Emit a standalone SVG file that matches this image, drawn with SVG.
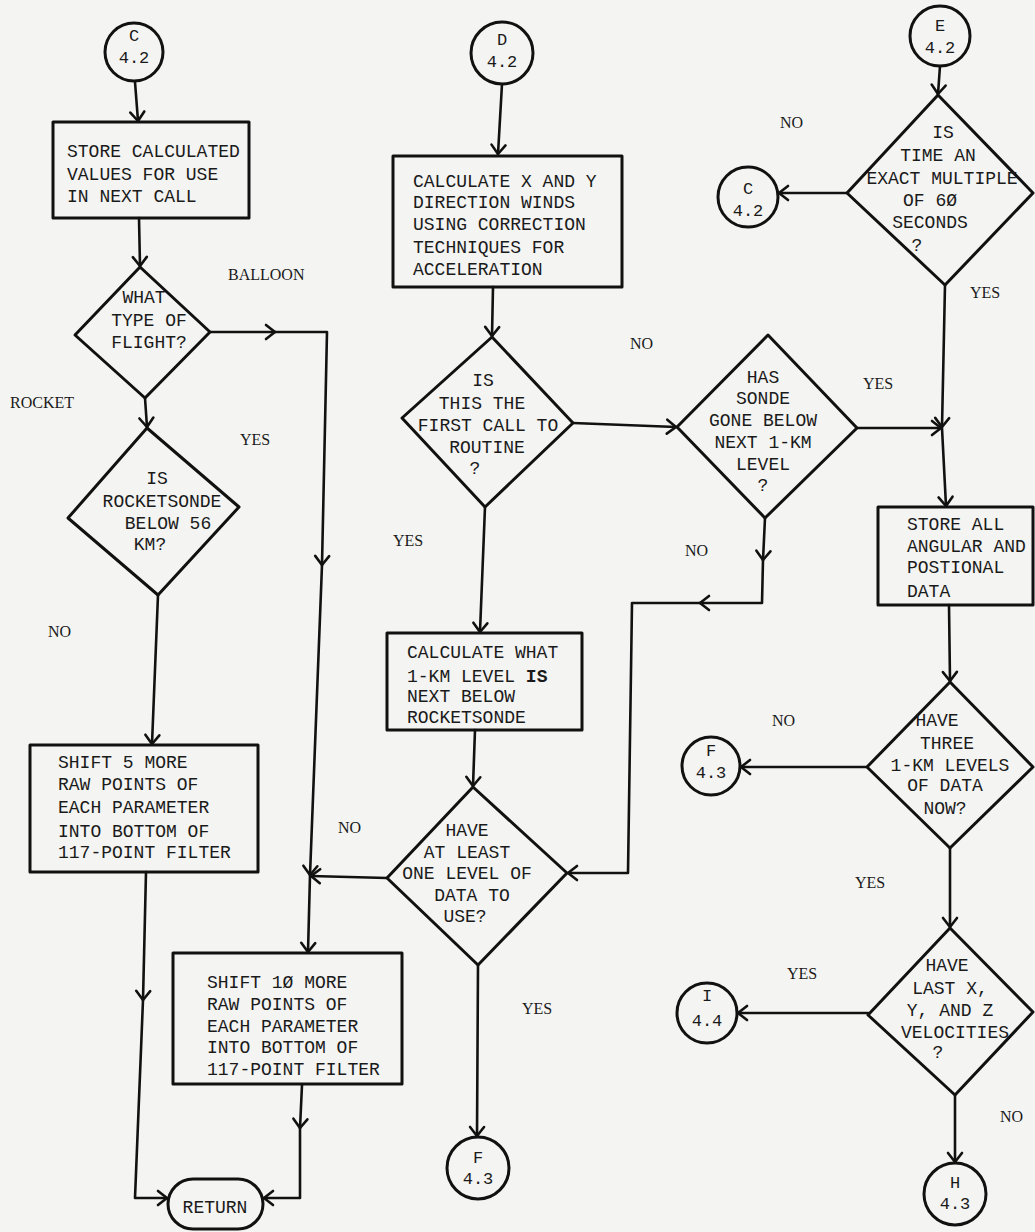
<svg xmlns="http://www.w3.org/2000/svg" width="1035" height="1232" viewBox="0 0 1035 1232">
<defs>
<marker id="arr" viewBox="-12 -10 14 20" refX="0" refY="0" markerWidth="14" markerHeight="20" markerUnits="userSpaceOnUse" orient="auto">
<path d="M-9,-7 L0,0 L-9,7" fill="none" stroke="#111" stroke-width="2.6" stroke-linecap="round" stroke-linejoin="round"/>
</marker>
</defs>
<style>
.bg{fill:#f4f4f2}
.shape{fill:none;stroke:#111;stroke-width:3;stroke-linejoin:round}
.conn{fill:none;stroke:#111;stroke-width:2.6;stroke-linejoin:round;stroke-linecap:round}
.t{font-family:"Liberation Mono","DejaVu Sans Mono",monospace;font-size:18px;fill:#1a1a1a}
.tc{font-family:"Liberation Mono","DejaVu Sans Mono",monospace;font-size:17px;fill:#1a1a1a;text-anchor:middle}
.m{text-anchor:middle}
.lbl{font-family:"Liberation Serif","Times New Roman",serif;font-size:16px;fill:#1a1a1a}
</style>
<rect class="bg" x="0" y="0" width="1035" height="1232"/>

<g id="connectors">
<path class="conn" d="M135,82 L138,121" marker-end="url(#arr)"/>
<path class="conn" d="M139,218 L140,266" marker-end="url(#arr)"/>
<path class="conn" d="M210,332 L275,332" marker-end="url(#arr)"/>
<path class="conn" d="M275,332 L327,332 L322,565" marker-end="url(#arr)"/>
<path class="conn" d="M322,565 L310,875" marker-end="url(#arr)"/>
<path class="conn" d="M310,875 L308,952" marker-end="url(#arr)"/>
<path class="conn" d="M145,398 L147,427" marker-end="url(#arr)"/>
<path class="conn" d="M158,595 L152,744" marker-end="url(#arr)"/>
<path class="conn" d="M146,872 L143,1000" marker-end="url(#arr)"/>
<path class="conn" d="M143,1000 L135,1198 L167,1198" marker-end="url(#arr)"/>
<path class="conn" d="M302,1085 L300,1128" marker-end="url(#arr)"/>
<path class="conn" d="M300,1128 L300,1198 L264,1198" marker-end="url(#arr)"/>
<path class="conn" d="M502,84 L498,154" marker-end="url(#arr)"/>
<path class="conn" d="M493,287 L492,336" marker-end="url(#arr)"/>
<path class="conn" d="M573,423 L676,427" marker-end="url(#arr)"/>
<path class="conn" d="M485,507 L480,632" marker-end="url(#arr)"/>
<path class="conn" d="M475,730 L473,786" marker-end="url(#arr)"/>
<path class="conn" d="M387,878 L311,876" marker-end="url(#arr)"/>
<path class="conn" d="M478,965 L477,1136" marker-end="url(#arr)"/>
<path class="conn" d="M765,518 L763,560" marker-end="url(#arr)"/>
<path class="conn" d="M763,560 L762,603 L700,603" marker-end="url(#arr)"/>
<path class="conn" d="M700,603 L632,603 L628,873 L568,873" marker-end="url(#arr)"/>
<path class="conn" d="M857,428 L941,428" marker-end="url(#arr)"/>
<path class="conn" d="M940,66 L938,94" marker-end="url(#arr)"/>
<path class="conn" d="M847,193 L779,193" marker-end="url(#arr)"/>
<path class="conn" d="M945,285 L942,427" marker-end="url(#arr)"/>
<path class="conn" d="M942,428 L946,506" marker-end="url(#arr)"/>
<path class="conn" d="M949,605 L950,681" marker-end="url(#arr)"/>
<path class="conn" d="M867,767 L741,767" marker-end="url(#arr)"/>
<path class="conn" d="M950,848 L950,927" marker-end="url(#arr)"/>
<path class="conn" d="M868,1013 L738,1013" marker-end="url(#arr)"/>
<path class="conn" d="M955,1095 L955,1162" marker-end="url(#arr)"/>
</g>

<g id="labels">
<text class="lbl" x="228" y="280">BALLOON</text>
<text class="lbl" x="10" y="408">ROCKET</text>
<text class="lbl" x="240" y="445">YES</text>
<text class="lbl" x="48" y="637">NO</text>
<text class="lbl" x="338" y="833">NO</text>
<text class="lbl" x="630" y="349">NO</text>
<text class="lbl" x="393" y="546">YES</text>
<text class="lbl" x="522" y="1014">YES</text>
<text class="lbl" x="685" y="556">NO</text>
<text class="lbl" x="863" y="389">YES</text>
<text class="lbl" x="780" y="128">NO</text>
<text class="lbl" x="970" y="298">YES</text>
<text class="lbl" x="772" y="726">NO</text>
<text class="lbl" x="855" y="888">YES</text>
<text class="lbl" x="787" y="979">YES</text>
<text class="lbl" x="1000" y="1122">NO</text>
</g>

<g id="conn-C-top">
<circle class="shape" cx="134" cy="52" r="29"/>
<text class="tc" x="134" y="41">C</text>
<text class="tc" x="134" y="63">4.2</text>
</g>
<g id="box-store-calc">
<rect class="shape" x="53" y="122" width="196" height="96"/>
<text class="t" x="67" y="157">STORE CALCULATED</text>
<text class="t" x="67" y="180">VALUES FOR USE</text>
<text class="t" x="67" y="202">IN NEXT CALL</text>
</g>
<g id="dec-flight-type">
<polygon class="shape" points="140,267 210,332 145,398 75,335"/>
<text class="t m" x="144" y="303">WHAT</text>
<text class="t m" x="149" y="326">TYPE OF</text>
<text class="t m" x="149" y="348">FLIGHT?</text>
</g>
<g id="dec-below-56">
<polygon class="shape" points="147,428 239,507 158,595 68,518"/>
<text class="t m" x="157" y="484">IS</text>
<text class="t m" x="162" y="507">ROCKETSONDE</text>
<text class="t m" x="168" y="529">BELOW 56</text>
<text class="t m" x="150" y="550">KM?</text>
</g>
<g id="box-shift5">
<rect class="shape" x="30" y="745" width="228" height="127"/>
<text class="t" x="58" y="768">SHIFT 5 MORE</text>
<text class="t" x="58" y="790">RAW POINTS OF</text>
<text class="t" x="58" y="813">EACH PARAMETER</text>
<text class="t" x="58" y="837">INTO BOTTOM OF</text>
<text class="t" x="58" y="858">117-POINT FILTER</text>
</g>
<g id="box-shift10">
<rect class="shape" x="173" y="953" width="229" height="131"/>
<text class="t" x="207" y="988">SHIFT 1Ø MORE</text>
<text class="t" x="207" y="1010">RAW POINTS OF</text>
<text class="t" x="207" y="1032">EACH PARAMETER</text>
<text class="t" x="207" y="1053">INTO BOTTOM OF</text>
<text class="t" x="207" y="1075">117-POINT FILTER</text>
</g>
<g id="term-return">
<rect class="shape" x="168" y="1179" width="95" height="50" rx="25"/>
<text class="t m" x="215" y="1213">RETURN</text>
</g>

<g id="conn-D-top">
<circle class="shape" cx="502" cy="53" r="31"/>
<text class="tc" x="502" y="45">D</text>
<text class="tc" x="502" y="67">4.2</text>
</g>
<g id="box-calc-winds">
<rect class="shape" x="393" y="156" width="229" height="131"/>
<text class="t" x="413" y="187">CALCULATE X AND Y</text>
<text class="t" x="413" y="208">DIRECTION WINDS</text>
<text class="t" x="413" y="230">USING CORRECTION</text>
<text class="t" x="413" y="253">TECHNIQUES FOR</text>
<text class="t" x="413" y="275">ACCELERATION</text>
</g>
<g id="dec-first-call">
<polygon class="shape" points="492,337 573,423 485,507 402,418"/>
<text class="t m" x="483" y="386">IS</text>
<text class="t m" x="482" y="409">THIS THE</text>
<text class="t m" x="488" y="431">FIRST CALL TO</text>
<text class="t m" x="487" y="453">ROUTINE</text>
<text class="t m" x="475" y="474">?</text>
</g>
<g id="box-calc-level">
<rect class="shape" x="387" y="633" width="195" height="97"/>
<text class="t" x="407" y="658">CALCULATE WHAT</text>
<text class="t" x="407" y="682">1-KM LEVEL <tspan font-weight="bold">IS</tspan></text>
<text class="t" x="407" y="702">NEXT BELOW</text>
<text class="t" x="407" y="723">ROCKETSONDE</text>
</g>
<g id="dec-one-level">
<polygon class="shape" points="473,787 567,873 478,965 387,878"/>
<text class="t m" x="467" y="836">HAVE</text>
<text class="t m" x="467" y="858">AT LEAST</text>
<text class="t m" x="467" y="879">ONE LEVEL OF</text>
<text class="t m" x="472" y="901">DATA TO</text>
<text class="t m" x="465" y="922">USE?</text>
</g>
<g id="conn-F-bottom">
<circle class="shape" cx="478" cy="1168" r="31"/>
<text class="tc" x="478" y="1163">F</text>
<text class="tc" x="478" y="1184">4.3</text>
</g>

<g id="dec-sonde-below">
<polygon class="shape" points="768,335 857,428 765,518 677,427"/>
<text class="t m" x="763" y="383">HAS</text>
<text class="t m" x="763" y="404">SONDE</text>
<text class="t m" x="763" y="426">GONE BELOW</text>
<text class="t m" x="763" y="448">NEXT 1-KM</text>
<text class="t m" x="763" y="470">LEVEL</text>
<text class="t m" x="763" y="491">?</text>
</g>

<g id="conn-E-top">
<circle class="shape" cx="940" cy="36" r="30"/>
<text class="tc" x="940" y="31">E</text>
<text class="tc" x="940" y="53">4.2</text>
</g>
<g id="dec-time-multiple">
<polygon class="shape" points="938,95 1033,193 945,285 847,193"/>
<text class="t m" x="943" y="138">IS</text>
<text class="t m" x="938" y="161">TIME AN</text>
<text class="t m" x="942" y="184">EXACT MULTIPLE</text>
<text class="t m" x="930" y="206">OF 6Ø</text>
<text class="t m" x="930" y="228">SECONDS</text>
<text class="t m" x="917" y="251">?</text>
</g>
<g id="conn-C-right">
<circle class="shape" cx="748" cy="197" r="30"/>
<text class="tc" x="748" y="194">C</text>
<text class="tc" x="748" y="216">4.2</text>
</g>
<g id="box-store-angular">
<rect class="shape" x="878" y="507" width="155" height="98"/>
<text class="t" x="907" y="530">STORE ALL</text>
<text class="t" x="907" y="552">ANGULAR AND</text>
<text class="t" x="907" y="573">POSTIONAL</text>
<text class="t" x="907" y="597">DATA</text>
</g>
<g id="dec-three-levels">
<polygon class="shape" points="950,682 1033,767 950,848 867,767"/>
<text class="t m" x="937" y="726">HAVE</text>
<text class="t m" x="947" y="749">THREE</text>
<text class="t m" x="950" y="771">1-KM LEVELS</text>
<text class="t m" x="945" y="791">OF DATA</text>
<text class="t m" x="945" y="814">NOW?</text>
</g>
<g id="conn-F-right">
<circle class="shape" cx="711" cy="766" r="29"/>
<text class="tc" x="711" y="756">F</text>
<text class="tc" x="711" y="778">4.3</text>
</g>
<g id="dec-velocities">
<polygon class="shape" points="950,928 1033,1012 955,1095 868,1015"/>
<text class="t m" x="947" y="971">HAVE</text>
<text class="t m" x="950" y="994">LAST X,</text>
<text class="t m" x="950" y="1016">Y, AND Z</text>
<text class="t m" x="955" y="1038">VELOCITIES</text>
<text class="t m" x="938" y="1058">?</text>
</g>
<g id="conn-I">
<circle class="shape" cx="707" cy="1013" r="30"/>
<text class="tc" x="707" y="1001">I</text>
<text class="tc" x="707" y="1026">4.4</text>
</g>
<g id="conn-H">
<circle class="shape" cx="955" cy="1194" r="31"/>
<text class="tc" x="955" y="1188">H</text>
<text class="tc" x="955" y="1209">4.3</text>
</g>
</svg>
